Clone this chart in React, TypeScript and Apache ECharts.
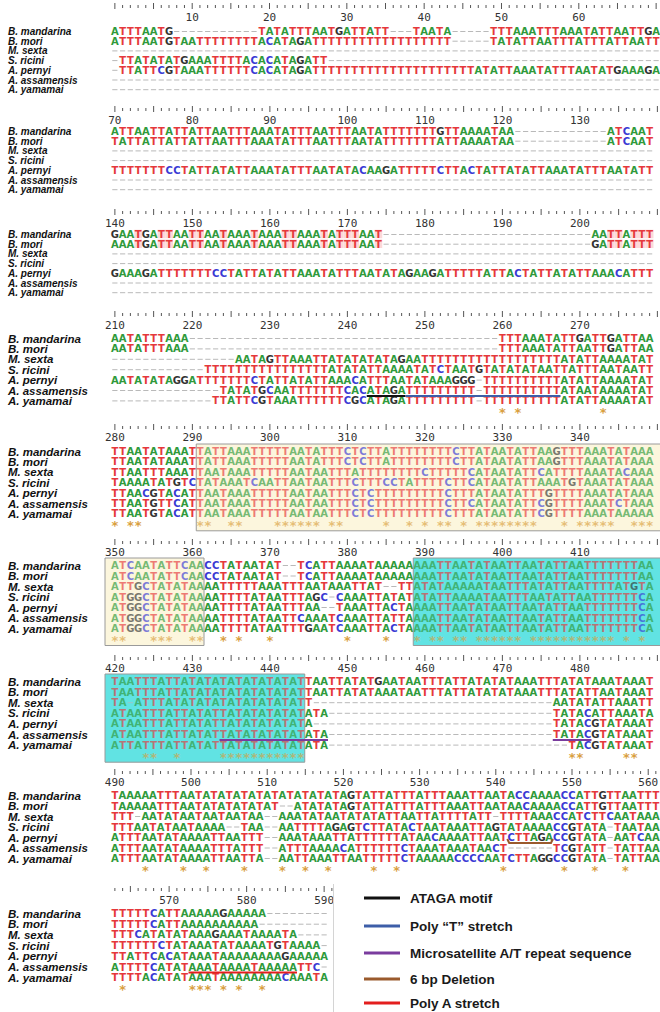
import { useEffect, useRef } from "react";
import * as echarts from "echarts";

// ---------- DATA ----------
const SPECIES = ["B. mandarina", "B. mori", "M. sexta", "S. ricini", "A. pernyi", "A. assamensis", "A. yamamai"];

const gap = (n: number) => "-".repeat(n);

const BLOCK_START = [0, 70, 140, 210, 280, 350, 420, 490, 563];
const BLOCK_COLS = [71, 70, 70, 70, 70, 70, 70, 72, 28];

const SEQ_1 = [
  "ATTTAATG" + gap(11) + "TATATTTAATGATTATT" + gap(3) + "TAATA" + gap(5) + "TTTAAATTTAAATATTAATTGA",
  "ATTTAATGTAA" + "TTTTTTTT" + "ACATAGA" + "TTTTTTTTTT" + "TTTTTTTT" + gap(5) + "TATATTAATTTATTTATTAATT",
  gap(71),
  "-TTATATATGAAATTTTACACATAGATT" + gap(43),
  "-TTATTCGTAAA" + "TTTTTT" + "CACATAGA" + "TTTTTTTTTT" + "TTTTTTTTTT" + "T" + "ATATTAAATATTTAATATGAAAGA",
  gap(71),
  gap(71),
];

const SEQ_2 = [
  "ATTAATTATTATTAATTTAAATATTTAATTTAATA" + "TTTTTTT" + "GTTAAAATAA" + gap(12) + "ATCAAT",
  "TATTATTATTATTAATTTAAATATTTAATTTAATA" + "TTTTTTT" + "ATTAAAATAA" + gap(12) + "ATCAAT",
  gap(70),
  gap(70),
  "TTTTTTT" + "CC" + "TATTATATTAAATATTTAATATA" + "CAAGA" + "TTTTT" + "CTTAC" + "TATTATATTAAATATTTAATATT",
  gap(70),
  gap(70),
];

const SEQ_3 = [
  "GAATGATTAATTAATAAATAAATTAAATATTTAAT" + gap(27) + "AATTATTT",
  "AAATGATTAATTAATAAATAAATTAAATATTTAAT" + gap(27) + "GATTATTT",
  gap(70),
  gap(70),
  "GAAAGA" + "TTTTTTT" + "CC" + "TATTATATTAAATATTTAATATA" + "GAAGA" + "TTTTT" + "ATTAC" + "TATTATATTAAACATTT",
  gap(70),
  gap(70),
];

const SEQ_4 = [
  "AATATTTAAA" + gap(40) + "TTTAAATATTGATTGATTAA",
  "AATATTTAAA" + gap(40) + "TTTAAATATTAATTGATTAA",
  gap(16) + "AATAGTTAAATTATATATATAGAA" + "TTTTTTTTTT" + "TTTTTTTT" + "ATATTAAAATAT",
  gap(12) + "TTTTTTTTTT" + "TTTTTT" + "ATATATTAAAATAT" + "CTAATG" + "TATATATAATTATTTAATAATT",
  "AATATATAGGA" + "TTTTTTT" + "CTATTATATTAAACATTTAATATAAAGGG" + "-" + "TTTTTTTTTT" + "ATATTAAAATAT",
  gap(14) + "TATATGCAA" + "TTTTTTT" + "CACATAGA" + "TTTTTTTTT" + "-" + "TTTTTTTTTT" + "ATAATAAAATAT",
  gap(13) + "TTATTCGTAAA" + "TTTTTT" + "CGCATAGA" + "TTTTTTTTT" + "-" + "TTTTTTTTTT" + "ATATTAAAATAT",
];

const SEQ_5 = [
  "TTAATATAAAT" + "TATTAAATTT" + "TTAATATTTC" + "TCTTATTTTT" + "TTTCTTATAA" + "TATTAAGTTT" + "AAATATAAA",
  "TTAATATAAAT" + "TATTAAATTT" + "TTAATATTTC" + "TCTTATTTTT" + "TTTCTTATAA" + "TATTAAGTTT" + "AAATATAAA",
  "TTAATTTAAAT" + "TAATAAATTT" + "TTAATAATTT" + "ATTTTTTTTC" + "TTTTTCATAA" + "TATTCATTTT" + "AAATACAAA",
  "TAAAATATGTC" + "TATAAATCAA" + "TTAATAATTT" + "CTTTCCTATT" + "TTCTTCATAA" + "TATTAAATGT" + "AAATATAAA",
  "TTAACGTACAT" + "TAATAAATTT" + "TTAATAATTT" + "CTCTTTTTTT" + "TTCTTTATAA" + "TATTTGTTTT" + "AAATATAAA",
  "TTAATGTTCAT" + "TAATAAATTT" + "TTAATAATTT" + "CTCTTTTTTT" + "TTCTTCATAA" + "TATTCGTTTT" + "AAATCTAAA",
  "TTAATGTACAT" + "TAATAAATTT" + "TTAATAATTT" + "CTCTTTTTTT" + "TTCTTTATAA" + "TATTCGTTTT" + "AAATAAAAA",
];

const SEQ_6 = [
  "ATCAATATTCAACCTATAATAT--TCATTAAAATAAAAA" + "AAATTAATATAATTAATATTAATTTTTTTAA",
  "ATCAATATTCAACCTATAATAT--TCATTAAAATAAAAA" + "AAATTAATATAATTAATATTAATTTTTTTAA",
  "ATTGCTATATAAAATTTTTAAATTTAATAAATTAT--TT" + "ATATAAAAATAATTTATATTAATTTTATGTA",
  "ATGGCTATATAAAATTTTATAATTTAGC-CAAATTATAT" + "ATATTAAAATAATTTAATATTAATTTTTTCA",
  "ATGGCTATATAAAATTTTATAATTTAA--TAAATTACTA" + "AAATTAATATAATTAATATTAATTTTTTTCA",
  "ATGGCTATATAAAATTTTATAATTCAAATCAAATTATTA" + "AAATTAATATAATTAATATTAATTTTTTTCA",
  "ATGGCTATATAAAATTTTATAATTTGAATCAAATTACTA" + "AAATTAATATAATTAATATTAATTTTTTTCA",
];

const SEQ_7 = [
  "TAATTTATTATATATATATATATAT" + "TAATTATATGAATAATTTATTATATATAAATTTATATAAATAAAT",
  "TAATTTATTATATATATATATATAT" + "TAATTATATAAATAATTTATTATATATAAATTTATATTAATAAAT",
  "TA-ATTTATATATATATATATATAT" + "T" + gap(31) + "AATATATTAAATT",
  "ATAATTTATTATATTATATATATAT" + "ATA" + gap(29) + "TATACATTAAATA",
  "ATAATTTATTATATTATATATATAT" + "A" + gap(31) + "TATACGTATAAAT",
  "ATAATTTATTATATTATATATATAT" + "ATA" + gap(29) + "TATACGTATAAAT",
  "ATTATTTATTATATTATATATATAT" + "ATA" + gap(31) + "TACGTATAAAT",
];

const SEQ_8 = [
  "TAAAAATTTAAT" + "ATATATATATATATATATA" + "G" + "TATTATTTATTTAAATTAATACCAAAACCATTGTTAATTT",
  "TAAAAATTTAAT" + "ATATATATAT" + "--" + "ATATATA" + "G" + "TATTATTTATTTAAATTAATAACAAAACCATTGTTAATTT",
  "TTT-" + "AATATAATAATAATAA" + "--" + "AAATATAATATATATTAATTATTTTATT" + "-" + "TTTTAAACCATCTTCAATAAA",
  "TTTAATATAATAAAA" + "--" + "TAA" + "--" + "AATTTTAGAG" + "TCTTATACTAATAAATTAG" + "TATAAAACCGTATA" + "-" + "TAATAA",
  "ATTTAATATAAAATTAATTT" + "--" + "AAATAAATTATTTTTTATAA" + "CAAAATTAAT" + "CTTAGA" + "CCGTATA" + "-" + "AATCAA",
  "ATTTAATATAAAATTTATTT" + "--" + "ATTTAAAACATTTTTTCTAAATAAATAACT" + gap(6) + "TCGTATT" + "-" + "TATTAA",
  "ATTTAATATAAAATTAATTA" + "--" + "AATTAAATTAATTTTTCTAAAAACCCCAAT" + "CTTAGG" + "CCGTATA" + "-" + "TATTAA",
];

const SEQ_9 = [
  "TTTTTCATTAAAAAGAAAAA" + gap(8),
  "TTTTTCATTAAAAAAAAAA" + gap(9),
  "TTTCATATATAAAGAAATAAAATA" + gap(4),
  "TTTTTTCTATAAATATAAAATGTAAAA" + gap(1),
  "TTATTCACATAAATAAAAAAAAGAAAAA",
  "ATTTTCATATAAATAAAATAAAAATTC" + gap(1),
  "TTTTACATATAAATAAAAAAAACAAATA",
];

const STARS_4 = [50, 52, 63];
const STARS_5 = [0, 2, 3, 11, 12, 15, 16, 21, 22, 23, 24, 25, 26, 28, 29, 35, 38, 40, 42, 43, 45, 47, 48, 49, 50, 51, 52, 53, 54, 58, 60, 61, 62, 63, 64, 67, 68, 69];
const STARS_6 = [0, 1, 5, 6, 7, 10, 11, 14, 16, 20, 30, 35, 39, 41, 42, 44, 45, 47, 48, 49, 50, 51, 52, 54, 55, 56, 57, 58, 59, 60, 61, 62, 63, 64, 66, 68];
const STARS_7 = [4, 5, 8, 14, 15, 16, 17, 18, 19, 20, 21, 22, 23, 24, 59, 60, 66, 67];
const STARS_8 = [4, 9, 12, 17, 22, 25, 28, 34, 37, 51, 59, 63, 67];
const STARS_9 = [1, 10, 11, 12, 14, 16, 19];

// shaded regions: block index, first column, last column, kind (0 beige, 1 cyan)
const BOX_BLOCK = [4, 5, 5, 6];
const BOX_FROM = [11, 0, 39, 0];
const BOX_TO = [69, 11, 69, 24];
const BOX_KIND = [0, 0, 1, 1];

// annotation lines: block, row, first column, last column, legend index
const MARK_BLOCK = [3, 3, 6, 6, 7, 8];
const MARK_ROW = [5, 5, 5, 5, 4, 5];
const MARK_FROM = [33, 38, 14, 57, 52, 10];
const MARK_TO = [37, 57, 27, 61, 57, 23];
const MARK_KIND = [0, 1, 2, 2, 3, 4];

const LEGEND_LABELS = ["ATAGA motif", "Poly \u201CT\u201D stretch", "Microsatellite A/T repeat sequence", "6 bp Deletion", "Poly A stretch"];

// ---------- STYLE / LAYOUT ----------
const LEGEND_COLORS = ["#111111", "#3d5ea8", "#7a3c9e", "#9a5a2c", "#e31e1e"];
const LETTERS = "ACGT-";
const LETTER_COLORS: Record<string, string> = { A: "#2f9a3b", C: "#3a3ad4", G: "#333333", T: "#e5383b" };
const BOX_BG = ["#fcf6dd", "#62e3e3"];
const BOX_OVER = ["rgba(252,246,221,0.35)", "rgba(98,227,227,0.35)"];
const X0 = 111;
const CW = [7.75, 7.75, 7.75, 7.75, 7.75, 7.75, 7.75, 7.62, 7.75];
const LAYOUT = [
  { tick: 3, num: 17, row0: 31, s: 9.7, fs: 10 },
  { tick: 106, num: 120, row0: 131, s: 9.7, fs: 10 },
  { tick: 209, num: 223, row0: 234, s: 9.7, fs: 10 },
  { tick: 311, num: 325, row0: 338, s: 10.4, fs: 11.5 },
  { tick: 424, num: 437, row0: 451, s: 10.4, fs: 11.5 },
  { tick: 539, num: 552, row0: 565, s: 10.5, fs: 11.5 },
  { tick: 655, num: 668, row0: 681, s: 10.6, fs: 11.5 },
  { tick: 769, num: 782, row0: 795, s: 10.5, fs: 11.5 },
  { tick: 886, num: 900, row0: 913, s: 10.7, fs: 11.5 },
];
const LEGEND_Y = [898, 926, 953, 979, 1003];

const SEQS = [SEQ_1, SEQ_2, SEQ_3, SEQ_4, SEQ_5, SEQ_6, SEQ_7, SEQ_8, SEQ_9];
const STARS: number[][] = [[], [], [], STARS_4, STARS_5, STARS_6, STARS_7, STARS_8, STARS_9];
const PINK_BLOCK = 2;
const PINK_ROWS = [0, 1];

const txt = (text: string, fill: string, font: string, align = "center", lineHeight?: number) => ({
  text,
  fill,
  font,
  align,
  verticalAlign: "middle",
  textAlign: align,
  textVerticalAlign: "middle",
  ...(lineHeight ? { lineHeight } : {}),
});

function buildOption() {
  const grid: any[] = [];
  const xAxis: any[] = [];
  const yAxis: any[] = [];
  const series: any[] = [];

  LAYOUT.forEach((L, b) => {
    const n = BLOCK_COLS[b];
    const cw = CW[b];
    grid.push({ left: X0, top: L.row0, width: n * cw, height: 6 * L.s });
    xAxis.push({ gridIndex: b, type: "value", min: -0.5, max: n - 0.5, show: false });
    yAxis.push({ gridIndex: b, type: "value", min: 0, max: 6, interval: 1, inverse: true, show: false });
    const ax = { xAxisIndex: b, yAxisIndex: b, silent: true, clip: false };

    // species names
    series.push({
      type: "custom",
      ...ax,
      z: 2,
      data: SPECIES.map((_s, r) => [0, r]),
      renderItem: (p: any, api: any) => {
        const y = api.coord([0, api.value(1)])[1];
        return {
          type: "text",
          x: 8,
          y: y + 0.5,
          style: txt(SPECIES[p.dataIndex], "#111", `italic bold ${L.fs}px "Liberation Sans"`, "left", Math.floor(L.s)),
        };
      },
    });

    // boxes
    const boxes: number[][] = [];
    BOX_BLOCK.forEach((bb, i) => {
      if (bb === b) boxes.push([BOX_FROM[i], BOX_TO[i], BOX_KIND[i]]);
    });
    const boxShape = (api: any, overlay: boolean) => {
      const from = api.value(0), to = api.value(1), k = api.value(2);
      let x1 = api.coord([from - 0.5, 0])[0];
      if (from === 0) x1 -= 6;
      let x2 = api.coord([to + 0.5, 0])[0];
      if (to >= n - 1) x2 += 14;
      const y1 = api.coord([0, 0])[1] - 7;
      const y2 = api.coord([0, 7])[1] + 7;
      return {
        type: "rect",
        shape: { x: x1, y: y1, width: x2 - x1, height: y2 - y1 },
        style: overlay ? { fill: BOX_OVER[k], stroke: "#9a9a9a", lineWidth: 1 } : { fill: BOX_BG[k] },
      };
    };
    if (boxes.length) {
      series.push({ type: "custom", ...ax, z: 1, data: boxes, renderItem: (_p: any, api: any) => boxShape(api, false) });
      series.push({ type: "custom", ...ax, z: 3, data: boxes, renderItem: (_p: any, api: any) => boxShape(api, true) });
    }

    // pale pink T cells
    if (b === PINK_BLOCK) {
      const pink: number[][] = [];
      PINK_ROWS.forEach((r) => {
        SEQS[b][r].split("").forEach((ch, c) => {
          if (ch === "T") pink.push([c, r]);
        });
      });
      series.push({
        type: "custom",
        ...ax,
        z: 1,
        data: pink,
        renderItem: (_p: any, api: any) => {
          const p = api.coord([api.value(0), api.value(1)]);
          return { type: "rect", shape: { x: p[0] - cw / 2, y: p[1] - 4.3, width: cw, height: 8.6 }, style: { fill: "#fcd9d9" } };
        },
      });
    }

    // letters
    const letters: number[][] = [];
    SEQS[b].forEach((row, r) => {
      row.split("").forEach((ch, c) => {
        letters.push([c, r, LETTERS.indexOf(ch)]);
      });
    });
    series.push({
      type: "custom",
      ...ax,
      z: 2,
      data: letters,
      renderItem: (_p: any, api: any) => {
        const p = api.coord([api.value(0), api.value(1)]);
        const ch = LETTERS[api.value(2)];
        if (ch === "-") {
          return { type: "line", shape: { x1: p[0] - 2.6, y1: p[1] + 0.5, x2: p[0] + 2.6, y2: p[1] + 0.5 }, style: { stroke: "#b9b9b9", lineWidth: 1 } };
        }
        return { type: "text", x: p[0], y: p[1] + 0.5, style: txt(ch, LETTER_COLORS[ch], 'bold 10px "DejaVu Sans"', "center", 9) };
      },
    });

    // conservation stars
    if (STARS[b].length) {
      series.push({
        type: "custom",
        ...ax,
        z: 2,
        data: STARS[b].map((c) => [c, 7]),
        renderItem: (_p: any, api: any) => {
          const p = api.coord([api.value(0), api.value(1)]);
          return { type: "text", x: p[0], y: p[1] + 2, style: txt("*", "#d9a03f", 'bold 13px "DejaVu Sans"', "center", 9) };
        },
      });
    }

    // ruler
    const ruler: number[][] = [];
    for (let j = 0; j <= n; j++) ruler.push([j, 0]);
    series.push({
      type: "custom",
      ...ax,
      z: 2,
      data: ruler,
      renderItem: (_p: any, api: any) => {
        const j = api.value(0);
        const pos = BLOCK_START[b] + j;
        const p = api.coord([j, 0]);
        const isLong = pos % 5 === 0;
        const children: any[] = [
          { type: "line", shape: { x1: p[0], y1: isLong ? L.tick : L.tick + 2, x2: p[0], y2: isLong ? L.tick + 6 : L.tick + 5 }, style: { stroke: "#555", lineWidth: 1 } },
        ];
        if (pos % 10 === 0 && pos > 0 && p[0] + 11 < 660) {
          children.push({ type: "text", x: p[0], y: L.num, style: txt(String(pos), "#333", '11px "DejaVu Sans Mono"') });
        }
        return { type: "group", children };
      },
    });

    // annotation lines
    const marks: number[][] = [];
    MARK_BLOCK.forEach((mb, i) => {
      if (mb === b) marks.push([MARK_FROM[i], MARK_ROW[i], MARK_TO[i], MARK_KIND[i]]);
    });
    if (marks.length) {
      series.push({
        type: "custom",
        ...ax,
        z: 4,
        data: marks,
        renderItem: (_p: any, api: any) => {
          const from = api.value(0), row = api.value(1), to = api.value(2), k = api.value(3);
          const x1 = api.coord([from - 0.5, row])[0];
          const x2 = api.coord([to + 0.5, row])[0];
          const y = api.coord([from, row])[1] + 6;
          if (k === 3) {
            return {
              type: "polyline",
              shape: { points: [[x1, y - 4], [x1 + 2, y], [x2 - 2, y], [x2, y - 4]] },
              style: { stroke: LEGEND_COLORS[k], lineWidth: 2, fill: "none" },
            };
          }
          return { type: "line", shape: { x1, y1: y, x2, y2: y }, style: { stroke: LEGEND_COLORS[k], lineWidth: 2 } };
        },
      });
    }
  });

  const graphic: any[] = [
    { type: "rect", z: 20, shape: { x: 334, y: 890, width: 20, height: 18 }, style: { fill: "#fff" } },
    { type: "line", z: 21, shape: { x1: 333.5, y1: 884, x2: 333.5, y2: 1012 }, style: { stroke: "#d4d4d4", lineWidth: 1 } },
  ];
  LEGEND_LABELS.forEach((label, i) => {
    graphic.push({
      type: "line",
      z: 21,
      shape: { x1: 364, y1: LEGEND_Y[i], x2: 400, y2: LEGEND_Y[i] },
      style: { stroke: LEGEND_COLORS[i], lineWidth: 3 },
    });
    graphic.push({
      type: "text",
      z: 21,
      x: 410,
      y: LEGEND_Y[i],
      style: { text: label, fill: "#1a1a1a", font: 'bold 13.5px "Liberation Sans"', textVerticalAlign: "middle", verticalAlign: "middle" },
    });
  });

  return {
    animation: false,
    backgroundColor: "#ffffff",
    grid,
    xAxis,
    yAxis,
    series,
    graphic,
  };
}

export default function App() {
  const ref = useRef<HTMLDivElement>(null);
  useEffect(() => {
    document.body.style.margin = "0";
    const chart = echarts.init(ref.current!, null, { renderer: "svg" });
    chart.setOption(buildOption() as any);
    return () => chart.dispose();
  }, []);
  return <div ref={ref} style={{ width: 660, height: 1012 }} />;
}
